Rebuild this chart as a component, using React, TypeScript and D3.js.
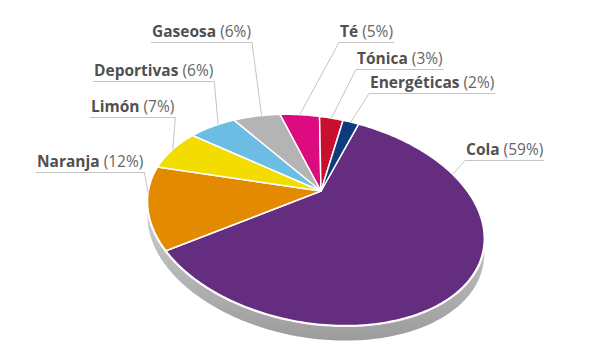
import React, { useEffect, useRef } from "react";
import * as d3 from "d3";

const categories = ["Cola", "Naranja", "Limón", "Deportivas", "Gaseosa", "Té", "Tónica", "Energéticas"];
const values = [59, 12, 7, 6, 6, 5, 3, 2];
const colors = ["#652d80", "#e38a00", "#f3dc00", "#6bbde3", "#b4b4b4", "#dc0b80", "#c8102e", "#0f3a7d"];

// label layout: left x of text, baseline y, which end of the underline the leader leaves from, leader target angle (deg, null = slice middle)
const labelLayout = [
  { x: 466, y: 155, from: "start", angle: 62 },
  { x: 37, y: 167, from: "end", angle: 252 },
  { x: 91, y: 112, from: "end", angle: null },
  { x: 94, y: 76, from: "end", angle: 306 },
  { x: 152, y: 37, from: "end", angle: 327 },
  { x: 340, y: 37, from: "start", angle: null },
  { x: 357, y: 64, from: "start", angle: null },
  { x: 370, y: 88, from: "start", angle: null },
];

const W = 600;
const H = 355;
const apex = [321, 191];
const D = 3.503;
const A = 570.7;
const B = 331.4;
const ROT = (10 * Math.PI) / 180;
const DEPTH = 15;
const START = (11.5 * Math.PI) / 180;

function proj(phi: number): [number, number] {
  const u = Math.sin(phi);
  const v = -Math.cos(phi);
  const w = D - v;
  const X = (A * u) / w;
  const Y = (B * v) / w;
  const c = Math.cos(ROT);
  const s = Math.sin(ROT);
  return [apex[0] + c * X - s * Y, apex[1] + s * X + c * Y];
}

export default function App() {
  const ref = useRef<SVGSVGElement>(null);

  useEffect(() => {
    const svg = d3.select(ref.current);
    svg.selectAll("*").remove();

    const defs = svg.append("defs");
    const grad = defs
      .append("linearGradient")
      .attr("id", "sideGrad")
      .attr("gradientUnits", "userSpaceOnUse")
      .attr("x1", 0)
      .attr("y1", 230)
      .attr("x2", 0)
      .attr("y2", 340);
    grad.append("stop").attr("offset", 0).attr("stop-color", "#c6c6c6");
    grad.append("stop").attr("offset", 1).attr("stop-color", "#9c9c9c");

    const line = d3.line();

    // side wall
    const rim: [number, number][] = d3.range(0, 361, 1).map((deg) => proj((deg * Math.PI) / 180));
    const shifted = rim.map(([x, y]) => [x, y + DEPTH] as [number, number]);
    const hull = d3.polygonHull(rim.concat(shifted));
    if (hull) {
      svg.append("path").attr("d", line(hull) + "Z").attr("fill", "url(#sideGrad)");
    }
    // white rim outline
    svg
      .append("path")
      .attr("d", line(rim) + "Z")
      .attr("fill", "#ffffff")
      .attr("stroke", "#ffffff")
      .attr("stroke-width", 3);

    const pie = d3
      .pie<number>()
      .sort(null)
      .startAngle(START)
      .endAngle(START + 2 * Math.PI);
    const arcs = pie(values);

    const g = svg.append("g");
    arcs.forEach((a, i) => {
      const n = Math.max(2, Math.ceil(((a.endAngle - a.startAngle) * 180) / Math.PI));
      const pts: [number, number][] = [apex as [number, number]];
      for (let k = 0; k <= n; k++) {
        const phi = a.startAngle + ((a.endAngle - a.startAngle) * k) / n;
        pts.push(proj(phi));
      }
      g.append("path")
        .attr("d", line(pts) + "Z")
        .attr("fill", colors[i])
        .attr("stroke", "#ffffff")
        .attr("stroke-width", 1.5)
        .attr("stroke-linejoin", "round");
    });

    // labels
    const lg = svg.append("g");
    arcs.forEach((a, i) => {
      const L = labelLayout[i];
      const t = lg
        .append("text")
        .attr("x", L.x)
        .attr("y", L.y)
        .attr("font-family", "'Open Sans', sans-serif")
        .attr("font-size", 15.5);
      t.append("tspan").attr("font-weight", 700).attr("fill", "#505050").text(categories[i]);
      t.append("tspan").attr("font-weight", 400).attr("fill", "#666666").text(` (${values[i]}%)`);
      const node = t.node() as SVGTextElement;
      const width = node.getComputedTextLength();
      const uy = L.y + 5.5;
      const x0 = L.x - 1;
      const x1 = L.x + width + 1;
      const ang =
        L.angle === null ? (a.startAngle + a.endAngle) / 2 : (L.angle * Math.PI) / 180;
      const end = proj(ang);
      const sx = L.from === "start" ? x0 : x1;
      lg.insert("path", "text")
        .attr("d", line([[L.from === "start" ? x1 : x0, uy], [sx, uy], end]))
        .attr("fill", "none")
        .attr("stroke", "#c4c4c4")
        .attr("stroke-width", 1);
    });
  }, []);

  return (
    <svg
      ref={ref}
      width={W}
      height={H}
      style={{ position: "absolute", left: 0, top: 0, background: "#ffffff" }}
    />
  );
}
